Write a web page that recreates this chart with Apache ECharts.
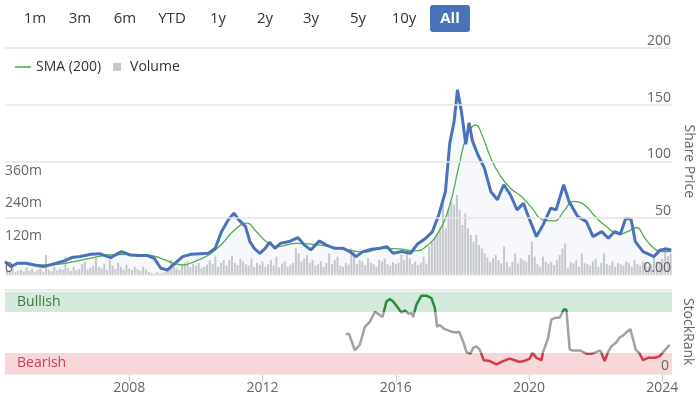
<!DOCTYPE html>
<html>
<head>
<meta charset="utf-8">
<script src="https://cdn.jsdelivr.net/npm/echarts@6/dist/echarts.min.js"></script>
<style>
  html, body { margin: 0; padding: 0; background: #fff; }
  #chart { width: 697px; height: 397px; }
</style>
</head>
<body>
<div id="chart"></div>
<script>
// share price (decimal year / price)
const priceYears = [2004.27,2004.45,2004.64,2004.9,2005.16,2005.42,2005.61,2005.81,2006.07,2006.27,2006.53,2006.85,2007.11,2007.44,2007.76,2008.03,2008.29,2008.55,2008.75,2008.95,2009.14,2009.34,2009.6,2009.86,2010.12,2010.38,2010.58,2010.77,2010.97,2011.14,2011.29,2011.49,2011.62,2011.75,2011.92,2012.08,2012.21,2012.37,2012.54,2012.8,2013.06,2013.25,2013.45,2013.71,2013.9,2014.16,2014.42,2014.62,2014.81,2015.01,2015.27,2015.53,2015.73,2015.92,2016.18,2016.44,2016.64,2016.9,2017.1,2017.29,2017.49,2017.62,2017.75,2017.85,2017.97,2018.1,2018.2,2018.3,2018.46,2018.66,2018.85,2019.05,2019.24,2019.44,2019.64,2019.83,2020.0,2020.22,2020.42,2020.65,2020.81,2021.04,2021.2,2021.46,2021.72,2021.92,2022.18,2022.38,2022.57,2022.74,2022.9,2023.06,2023.19,2023.42,2023.75,2023.94,2024.14,2024.27]
const prices = [11.8,7.4,10.3,10.3,8.8,7.4,8.8,10.3,12.6,15.3,16.2,18.2,18.8,15.3,20.6,17.6,17.1,17.1,14.7,5.9,4.4,9.4,16.2,18.2,18.8,19.1,23.5,38.2,48.5,54.4,48.5,42.6,29.4,23.5,19.1,23.5,28.8,23.5,27.9,29.4,32.9,26.5,22.1,30.0,26.5,23.5,23.5,20.6,16.2,20.6,22.6,23.5,25.0,19.1,20.6,19.1,27.0,32.3,38.2,52.9,73.5,116,135,163,144,115,134,118,106,94,73.5,66.2,79.4,70.6,57.3,63.2,50.0,33.8,44.1,58.8,57.3,79.4,64.7,51.5,47.0,33.8,38.2,32.3,38.2,35.9,50.0,49.1,29.4,20.6,16.2,22.1,22.9,21.8]

// 200 day moving average
const smaYears = [2004.9,2005.42,2006.07,2006.73,2007.38,2008.03,2008.55,2008.95,2009.34,2009.6,2009.99,2010.38,2010.77,2011.16,2011.53,2011.81,2012.14,2012.47,2012.99,2013.51,2014.03,2014.56,2015.08,2015.6,2016.13,2016.58,2016.9,2017.29,2017.62,2017.88,2018.14,2018.4,2018.59,2018.85,2019.12,2019.44,2019.77,2020.09,2020.42,2020.75,2021.07,2021.33,2021.66,2021.98,2022.38,2022.7,2022.96,2023.22,2023.48,2023.75,2024.01,2024.27]
const sma = [9.4,8.8,10.3,14.1,17.6,18.2,17.6,14.7,10.3,8.8,12.3,17.6,27.0,39.7,45.6,38.2,28.8,25.0,27.9,27.0,25.0,22.1,20.0,23.5,22.9,21.2,25.0,38.2,61.7,94,123,132,123,103,88,76.4,69.1,58.8,48.5,47.6,57.3,64.7,61.7,51.5,41.2,35.9,38.2,41.8,32.3,23.5,20.6,20.6]

// monthly volume in millions, first bar May 2004
const volStart = 2004 + 4 / 12
const volume = [
  18, 12, 25, 10, 15, 20, 12, 28,
  15, 22, 10, 18, 25, 12, 74, 20, 14, 30, 16, 22,
  20, 68, 25, 15, 30, 18, 22, 40, 49, 20, 28, 35,
  62, 30, 25, 42, 18, 55, 35, 22, 45, 30, 20, 38,
  25, 18, 30, 22, 15, 31, 20, 12, 8, 5, 10, 6,
  8, 12, 20, 55, 30, 25, 18, 35, 45, 50, 30, 40,
  35, 45, 25, 30, 38, 55, 40, 68, 30, 45, 55, 35,
  55, 70, 45, 37, 60, 50, 40, 35, 62, 30, 45, 38,
  49, 30, 40, 55, 35, 68, 28, 42, 50, 30, 38, 45,
  98, 80, 50, 60, 74, 45, 55, 35, 40, 50, 30, 45,
  80, 40, 55, 68, 35, 30, 45, 38, 98, 92, 40, 55,
  50, 37, 62, 45, 40, 30, 55, 50, 62, 40, 35, 48,
  40, 45, 74, 55, 86, 62, 40, 50, 37, 45, 68, 42,
  105, 123, 135, 154, 178, 285, 172, 246, 271, 260, 296, 240,
  185, 228, 172, 148, 123, 148, 111, 98, 80, 65, 49, 62,
  74, 55, 43, 105, 49, 31, 49, 80, 43, 62, 55, 50,
  74, 123, 68, 40, 31, 68, 50, 43, 49, 37, 55, 74,
  98, 117, 25, 49, 43, 55, 30, 80, 45, 40, 35, 50,
  60, 30, 45, 80, 40, 35, 50, 30, 45, 40, 35, 50,
  45, 30, 55, 40, 35, 49, 45, 30, 40, 68, 50, 45,
  60, 105, 70, 80,
]

// StockRank
const rankYears = [2014.5,2014.6,2014.77,2014.92,2015.07,2015.22,2015.37,2015.47,2015.6,2015.72,2015.82,2015.92,2016.07,2016.17,2016.27,2016.37,2016.47,2016.52,2016.62,2016.77,2016.92,2017.07,2017.17,2017.24,2017.32,2017.47,2017.67,2017.82,2017.9,2018.02,2018.12,2018.24,2018.32,2018.42,2018.52,2018.64,2018.82,2019.02,2019.22,2019.42,2019.57,2019.72,2019.92,2020.02,2020.1,2020.22,2020.37,2020.42,2020.57,2020.67,2020.8,2020.92,2021.04,2021.12,2021.22,2021.32,2021.52,2021.72,2021.87,2022.02,2022.14,2022.27,2022.37,2022.47,2022.62,2022.72,2022.82,2022.94,2023.04,2023.12,2023.2,2023.32,2023.42,2023.57,2023.77,2023.92,2024.07,2024.22]
const rank = [48,48,28,35,57,63,75,73,69,88,91,88,80,74,77,73,74,69,84,95,95,92,80,57,59,54,51,50,51,39,26,24,31,33,29,16,15,11,15,18,16,14,16,18,25,19,16,26,43,66,68,68,78,78,29,28,28,24,24,26,28,15,26,33,38,44,46,51,54,42,29,24,16,19,19,21,28,35]

const yearTicks = [2008, 2012, 2016, 2020, 2024]
const ranges = ['1m', '3m', '6m', 'YTD', '1y', '2y', '3y', '5y', '10y']

const xMin = 2004.27
const xMax = 2024.29
const FONT = '"Open Sans", "Noto Sans", sans-serif'

const zip = (xs, ys) => xs.map((x, i) => [x, ys[i]])
const priceData = zip(priceYears, prices)

const chart = echarts.init(document.getElementById('chart'), null, { renderer: 'canvas' })

// range selector, centred on each button slot
const rangeButtons = ranges.map((t, i) => ({
  type: 'text',
  x: [35, 80, 125, 172, 218, 265, 311, 358, 404][i],
  y: 19,
  style: { text: t, fill: '#333', font: '15px ' + FONT, align: 'center', verticalAlign: 'middle' },
}))

chart.setOption({
  animation: false,
  textStyle: { fontFamily: FONT },
  graphic: [
    ...rangeButtons,
    {
      type: 'rect',
      x: 430, y: 5,
      shape: { width: 40, height: 27, r: 3 },
      style: { fill: '#4a72b8' },
    },
    {
      type: 'text',
      x: 450, y: 19,
      style: { text: 'All', fill: '#fff', font: 'bold 15px ' + FONT, align: 'center', verticalAlign: 'middle' },
    },
  ],
  legend: {
    left: 10, top: 55,
    itemWidth: 16, itemHeight: 8, itemGap: 12,
    textStyle: { fontSize: 14, color: '#333' },
    data: [
      { name: 'SMA (200)', icon: 'path://M0,0H16V1.6H0Z' },
      { name: 'Volume', icon: 'path://M0,0H10V10H0Z' },
    ],
  },
  grid: [
    { left: 5, right: 25, top: 47.7, height: 227.3, outerBoundsMode: 'none' },
    { left: 5, right: 25, top: 290, height: 83.3, outerBoundsMode: 'none' },
  ],
  xAxis: [
    { type: 'value', gridIndex: 0, min: xMin, max: xMax, show: false },
    {
      type: 'value', gridIndex: 1, min: xMin, max: xMax,
      axisLine: { lineStyle: { color: '#e3e3e3' } },
      axisTick: { customValues: yearTicks, length: 8, lineStyle: { color: '#ccc' } },
      axisLabel: { customValues: yearTicks, color: '#666', fontSize: 14, margin: 8, formatter: v => String(v) },
      splitLine: { show: false },
    },
  ],
  yAxis: [
    {
      type: 'value', gridIndex: 0, position: 'right',
      min: 0, max: 200, interval: 50,
      name: 'Share Price', nameLocation: 'middle', nameRotate: -90, nameGap: 7,
      nameTextStyle: { color: '#666', fontSize: 14 },
      axisLine: { show: false }, axisTick: { show: false },
      axisLabel: {
        inside: true, margin: 1, verticalAlign: 'bottom', color: '#666', fontSize: 14,
        formatter: v => (v === 0 ? '0.00' : v),
      },
      splitLine: { lineStyle: { color: '#e6e6e6', width: 1.5 } },
      z: 5,
    },
    {
      type: 'value', gridIndex: 0, position: 'left',
      min: 0, max: 840, interval: 120,
      axisLine: { show: false }, axisTick: { show: false },
      axisLabel: {
        inside: true, margin: 0, verticalAlign: 'bottom', color: '#666', fontSize: 14,
        formatter: v => (v === 0 ? '0' : v <= 360 ? v + 'm' : ''),
      },
      splitLine: { show: false },
      z: 5,
    },
    {
      type: 'value', gridIndex: 1, position: 'right',
      min: 0, max: 102, interval: 102,
      name: 'StockRank', nameLocation: 'middle', nameRotate: -90, nameGap: 7,
      nameTextStyle: { color: '#666', fontSize: 14 },
      axisLine: { show: false }, axisTick: { show: false },
      axisLabel: {
        inside: true, margin: 3, verticalAlign: 'bottom', color: '#666', fontSize: 14,
        formatter: v => (v === 0 ? '0' : ''),
      },
      splitLine: { lineStyle: { color: '#e3e3e3', width: 1.5 } },
      z: 5,
    },
  ],
  visualMap: {
    type: 'piecewise', show: false, seriesIndex: 4, dimension: 1,
    pieces: [
      { lt: 25, color: '#d33a4c' },
      { gte: 25, lte: 75, color: '#a2a2a2' },
      { gt: 75, color: '#2b8a3e' },
    ],
  },
  series: [
    {
      name: 'PriceFill', type: 'line', xAxisIndex: 0, yAxisIndex: 0,
      data: priceData, showSymbol: false, silent: true,
      lineStyle: { width: 0, opacity: 0 },
      areaStyle: { color: 'rgba(74,114,184,0.07)' },
      z: 1,
    },
    {
      name: 'Volume', type: 'bar', xAxisIndex: 0, yAxisIndex: 1,
      data: volume.map((v, i) => [volStart + i / 12, v]),
      barWidth: 2,
      itemStyle: { color: '#c5c7cd' },
      z: 2,
    },
    {
      name: 'SMA (200)', type: 'line', xAxisIndex: 0, yAxisIndex: 0,
      data: zip(smaYears, sma), smooth: true, symbol: 'none',
      lineStyle: { color: '#4fae48', width: 1.3 },
      itemStyle: { color: '#4fae48' },
      z: 3,
    },
    {
      name: 'Price', type: 'line', xAxisIndex: 0, yAxisIndex: 0,
      data: priceData, symbol: 'none',
      lineStyle: { color: '#4a72bb', width: 3 },
      itemStyle: { color: '#4a72bb' },
      z: 4,
    },
    {
      name: 'StockRank', type: 'line', xAxisIndex: 1, yAxisIndex: 2,
      data: zip(rankYears, rank), symbol: 'none',
      lineStyle: { width: 2.5 },
      z: 3,
      markArea: {
        silent: true,
        data: [
          [
            { yAxis: 75, name: 'Bullish', itemStyle: { color: '#d4e8db' },
              label: { color: '#3a7a3a' } },
            { yAxis: 100 },
          ],
          [
            { yAxis: 0, name: 'Bearish', itemStyle: { color: '#f7d7da' },
              label: { color: '#d23c50' } },
            { yAxis: 25 },
          ],
        ],
        label: { show: true, position: 'insideLeft', fontSize: 14, distance: 12 },
      },
    },
  ],
})
</script>
</body>
</html>
